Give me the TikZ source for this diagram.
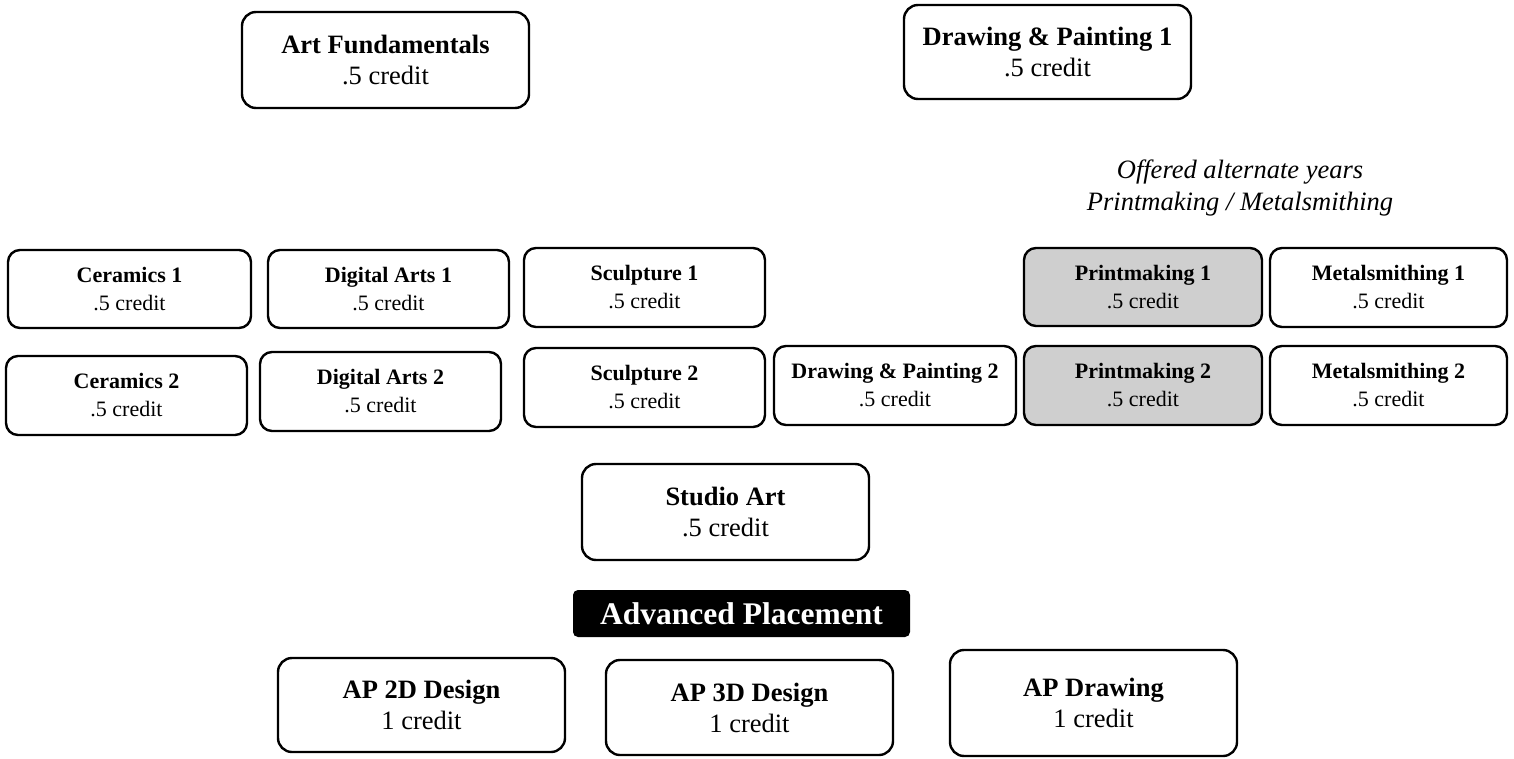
\documentclass[tikz,border=0pt]{standalone}
\usepackage{fontspec}
\setmainfont{Liberation Serif}
\begin{document}
\begin{tikzpicture}[x=1pt,y=-1pt,
  box/.style={draw=black,line width=2.4pt,rounded corners=12pt,align=center,inner sep=0pt},
  smallbox/.style={box,font=\fontsize{22}{28}\selectfont},
  bigbox/.style={box,rounded corners=14pt,font=\fontsize{26.5}{31}\selectfont},
  graybox/.style={smallbox,fill=black!19},
  apbar/.style={fill=black,rounded corners=5pt,text=white,font=\fontsize{31.5}{34}\selectfont\bfseries,inner sep=0pt},
  note/.style={font=\fontsize{26.5}{32}\selectfont\itshape,align=center}]
\useasboundingbox (0,0) rectangle (1514,759);
\newcommand{\mkbox}[7]{%
  \node[#1,minimum width={#4-#2},minimum height={#5-#3}] (#6) at ({(#2+#4)/2},{(#3+#5)/2}) {#7};}
\mkbox{bigbox}{242}{12}{529}{108}{artf}{\textbf{Art Fundamentals}\\.5 credit}
\mkbox{bigbox}{904}{5}{1191}{99}{dp1}{\textbf{Drawing \& Painting 1}\\.5 credit}
\node[note] (alt) at (1240,188) {Offered alternate years\\Printmaking / Metalsmithing};
\mkbox{smallbox}{8}{250}{251}{328}{cer1}{\textbf{Ceramics 1}\\.5 credit}
\mkbox{smallbox}{268}{250}{509}{328}{dig1}{\textbf{Digital Arts 1}\\.5 credit}
\mkbox{smallbox}{524}{248}{765}{327}{scu1}{\textbf{Sculpture 1}\\.5 credit}
\mkbox{graybox}{1024}{248}{1262}{326}{pri1}{\textbf{Printmaking 1}\\.5 credit}
\mkbox{smallbox}{1270}{248}{1507}{327}{met1}{\textbf{Metalsmithing 1}\\.5 credit}
\mkbox{smallbox}{6}{356}{247}{435}{cer2}{\textbf{Ceramics 2}\\.5 credit}
\mkbox{smallbox}{260}{352}{501}{431}{dig2}{\textbf{Digital Arts 2}\\.5 credit}
\mkbox{smallbox}{524}{348}{765}{427}{scu2}{\textbf{Sculpture 2}\\.5 credit}
\mkbox{smallbox}{774}{346}{1016}{425}{dp2}{\textbf{Drawing \& Painting 2}\\.5 credit}
\mkbox{graybox}{1024}{346}{1262}{425}{pri2}{\textbf{Printmaking 2}\\.5 credit}
\mkbox{smallbox}{1270}{346}{1507}{425}{met2}{\textbf{Metalsmithing 2}\\.5 credit}
\mkbox{bigbox}{582}{464}{869}{560}{studio}{\textbf{Studio Art}\\.5 credit}
\mkbox{apbar}{573}{590}{910}{637}{ap}{Advanced Placement}
\mkbox{bigbox}{278}{658}{565}{752}{ap2d}{\textbf{AP 2D Design}\\1 credit}
\mkbox{bigbox}{606}{660}{893}{755}{ap3d}{\textbf{AP 3D Design}\\1 credit}
\mkbox{bigbox}{950}{650}{1237}{756}{apdr}{\textbf{AP Drawing}\\1 credit}
\end{tikzpicture}
\end{document}
